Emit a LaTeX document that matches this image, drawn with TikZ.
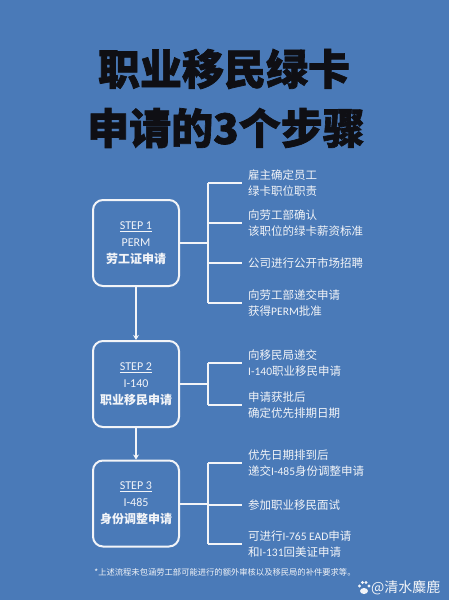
\documentclass[tikz,border=0pt]{standalone}
\usepackage{fontspec}
\setmainfont{Carlito}
\newfontfamily\cjk{Noto Sans CJK SC}
\newfontfamily\cjkheavy[BoldFeatures={FakeBold=1.6}]{Noto Sans CJK SC}
\usetikzlibrary{arrows.meta}
\definecolor{bg}{RGB}{74,122,184}
\definecolor{fg}{RGB}{242,244,248}
\definecolor{ink}{RGB}{15,15,20}
\begin{document}
\begin{tikzpicture}[x=1pt,y=-1pt,
  stepbox/.style={draw=fg, line width=2pt, rounded corners=10pt, minimum width=86pt, minimum height=86pt,
    text=fg, align=center, font=\fontsize{12}{17}\selectfont, inner sep=0pt},
  item/.style={anchor=west, text=fg, font=\cjk\fontsize{11.5}{16.5}\selectfont, align=left, inner xsep=6pt, inner ysep=0pt},
  link/.style={draw=fg, line width=2pt},
  arr/.style={link, -{Stealth[length=5pt,width=6pt]}},
  titlef/.style={text=ink, font=\cjkheavy\bfseries\fontsize{42}{46}\selectfont, inner sep=0pt}]
\fill[bg] (0,0) rectangle (449,600);
\useasboundingbox (0,0) rectangle (449,600);

% title
\node[titlef] (title1) at (224,69) {职业移民绿卡};
\node[titlef] (title2) at (226,128) {申请的3个步骤};

% step boxes
\node[stepbox] (b1) at (136,243) {\underline{STEP 1}\\PERM\\{\cjk\bfseries 劳工证申请}};
\node[stepbox] (b2) at (136,384) {\underline{STEP 2}\\I-140\\{\cjk\bfseries 职业移民申请}};
\node[stepbox] (b3) at (136,503.5) {\underline{STEP 3}\\I-485\\{\cjk\bfseries 身份调整申请}};

\draw[arr] (b1.south) -- (b2.north);
\draw[arr] (b2.south) -- (b3.north);

% items step 1
\node[item] (t11) at (242,183) {雇主确定员工\\绿卡职位职责};
\node[item] (t12) at (242,223) {向劳工部确认\\该职位的绿卡薪资标准};
\node[item] (t13) at (242,263) {公司进行公开市场招聘};
\node[item] (t14) at (242,303) {向劳工部递交申请\\获得{\rmfamily PERM}批准};
\coordinate (v11) at (208,183);
\coordinate (v12) at (208,223);
\coordinate (v13) at (208,263);
\coordinate (v14) at (208,303);
\draw[link] (v11) -- (v14);
\draw[link] (b1.east) -- (b1.east -| v11);
\foreach \i in {1,...,4} \draw[link] (v1\i) -- (t1\i.west);

% items step 2
\node[item] (t21) at (242,363) {向移民局递交\\{\rmfamily I-140}职业移民申请};
\node[item] (t22) at (242,405) {申请获批后\\确定优先排期日期};
\coordinate (v21) at (208,363);
\coordinate (v22) at (208,405);
\draw[link] (v21) -- (v22);
\draw[link] (b2.east) -- (b2.east -| v21);
\foreach \i in {1,2} \draw[link] (v2\i) -- (t2\i.west);

% items step 3
\node[item] (t31) at (242,463) {优先日期排到后\\递交{\rmfamily I-485}身份调整申请};
\node[item] (t32) at (242,505) {参加职业移民面试};
\node[item] (t33) at (242,544) {可进行{\rmfamily I-765 EAD}申请\\和{\rmfamily I-131}回美证申请};
\coordinate (v31) at (208,463);
\coordinate (v32) at (208,505);
\coordinate (v33) at (208,544);
\draw[link] (v31) -- (v33);
\draw[link] (b3.east) -- (b3.east -| v31);
\foreach \i in {1,2,3} \draw[link] (v3\i) -- (t3\i.west);

% footnote
\node[text=fg, font=\cjk\fontsize{8.3}{10}\selectfont, inner sep=0pt] (note) at (225,572)
  {*上述流程未包涵劳工部可能进行的额外审核以及移民局的补件要求等。};

% watermark
\node[text=fg, font=\cjk\fontsize{14}{16}\selectfont, anchor=west, inner sep=0pt] (wm) at (371,588) {@清水麋鹿};
\begin{scope}[fill=fg]
  \fill (364,591) ellipse (4pt and 3pt);
  \fill (359.5,586) circle (1.6pt);
  \fill (362.5,582.5) circle (1.6pt);
  \fill (366,582.5) circle (1.6pt);
  \fill (369,586) circle (1.6pt);
\end{scope}
\end{tikzpicture}
\end{document}
